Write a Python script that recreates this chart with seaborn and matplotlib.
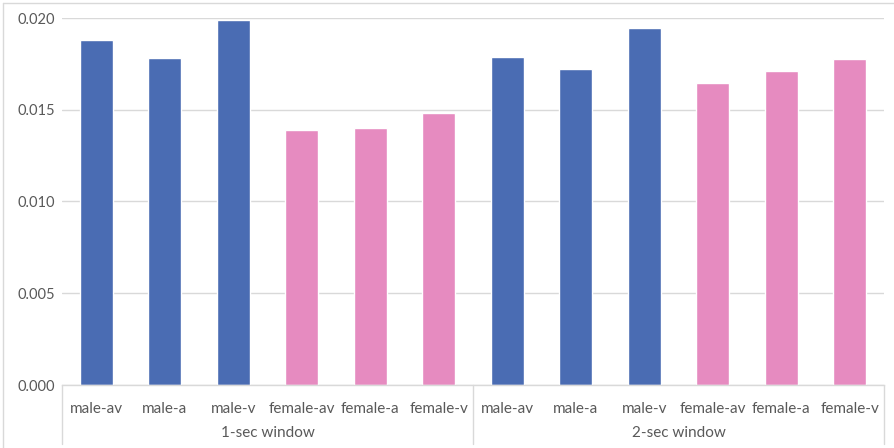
import matplotlib
matplotlib.use("Agg")
import matplotlib.pyplot as plt
import matplotlib.transforms as mtransforms
from matplotlib.lines import Line2D
import seaborn as sns
import pandas as pd

windows = ["1-sec window", "2-sec window"]
conditions = ["male-av", "male-a", "male-v", "female-av", "female-a", "female-v"]
values_1sec = [0.01880, 0.01781, 0.01989, 0.01392, 0.01403, 0.01480]
values_2sec = [0.01786, 0.01721, 0.01945, 0.01644, 0.01710, 0.01776]
yticks = [0.000, 0.005, 0.010, 0.015, 0.020]

rows = []
for w, vals in zip(windows, [values_1sec, values_2sec]):
    for c, v in zip(conditions, vals):
        rows.append({"window": w, "condition": c, "value": v,
                     "sex": "male" if c.startswith("male") else "female",
                     "key": f"{w}|{c}"})
df = pd.DataFrame(rows)

sns.set_theme(style="white")
plt.rcParams["font.family"] = ["Lato", "DejaVu Sans"]

fig = plt.figure(figsize=(8.94, 4.48), dpi=100)
ax = fig.add_axes([62 / 894, 1 - 385 / 448, (884 - 62) / 894, (385 - 18) / 448])

sns.barplot(data=df, x="key", y="value", hue="sex",
            palette={"male": "#4A6CB3", "female": "#E68BC0"},
            dodge=False, width=0.48, legend=False, ax=ax, saturation=1)

ax.set_ylim(0, 0.020)
ax.set_xlim(-0.5, len(df) - 0.5)
ax.set_yticks(yticks)
ax.set_yticklabels([f"{t:.3f}" for t in yticks])
ax.yaxis.grid(True, color="#D9D9D9", linewidth=1)
ax.set_axisbelow(True)
for s in ["top", "right", "left"]:
    ax.spines[s].set_visible(False)
ax.spines["bottom"].set_color("#D9D9D9")
ax.spines["bottom"].set_linewidth(1)
ax.set_xlabel("")
ax.set_ylabel("")
ax.set_xticks(range(len(df)))
ax.set_xticklabels(df["condition"])
ax.tick_params(axis="x", length=0, pad=12, labelsize=11, labelcolor="#595959")
ax.tick_params(axis="y", length=0, pad=5, labelsize=10.5, labelcolor="#595959")

trans = mtransforms.blended_transform_factory(ax.transData, fig.transFigure)
n = len(conditions)
y_bottom = 1 - 444 / 448
for i in range(len(windows) + 1):
    xpos = i * n - 0.5
    ax.plot([xpos, xpos], [1 - 385 / 448, y_bottom], transform=trans,
            color="#D9D9D9", linewidth=1, clip_on=False)
for i, w in enumerate(windows):
    ax.text(i * n + (n - 1) / 2, 1 - 433 / 448, w, transform=trans,
            ha="center", va="center", fontsize=11, color="#595959")

# chart-area border (top and left edges visible in the reference)
fig.lines.append(Line2D([3 / 894, 1.0], [1 - 3 / 448, 1 - 3 / 448],
                        transform=fig.transFigure, color="#D9D9D9", linewidth=1))
fig.lines.append(Line2D([3 / 894, 3 / 894], [1 - 3 / 448, 0.0],
                        transform=fig.transFigure, color="#D9D9D9", linewidth=1))

fig.savefig("out.png", dpi=100)
